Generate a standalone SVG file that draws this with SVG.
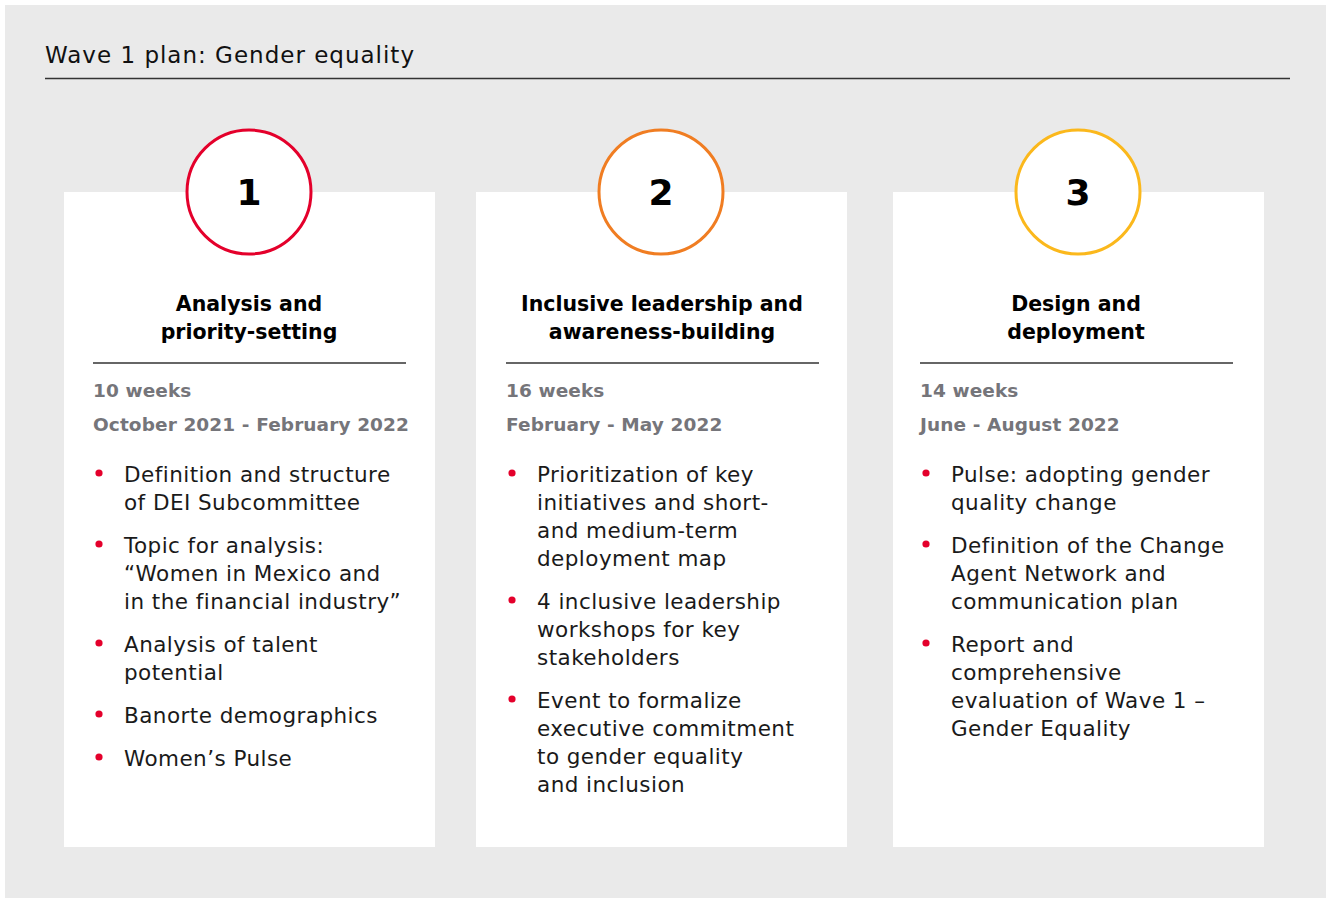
<svg xmlns="http://www.w3.org/2000/svg" width="1326" height="898" viewBox="0 0 1326 898">
<style>
.t{font-family:"DejaVu Sans","Liberation Sans",Arial,sans-serif}
.title{font-size:23px;fill:#111;letter-spacing:1px}
.num{font-size:36px;font-weight:bold;fill:#000;text-anchor:middle}
.head{font-size:20.5px;font-weight:bold;fill:#000;text-anchor:middle}
.meta{font-size:18.5px;font-weight:bold;fill:#75757a;letter-spacing:0.1px}
.item{font-size:21.5px;fill:#1a1a1a;letter-spacing:0.45px}
.card{fill:#fff}
.circ{fill:#fff;stroke-width:3}
.rule{stroke:#333;stroke-width:1.5}
</style>
<defs>
<circle id="dot" r="3.6" fill="#e4002b"/>
</defs>
<rect x="0" y="0" width="1326" height="898" fill="#fff"/>
<rect x="5" y="5" width="1321" height="893" fill="#eaeaea"/>
<text class="t title" x="45" y="63">Wave 1 plan: Gender equality</text>
<line class="rule" x1="45" y1="78.5" x2="1290" y2="78.5"/>

<g id="card1">
<rect class="card" x="64" y="192" width="371" height="655"/>
<circle class="circ" cx="249" cy="192" r="62" stroke="#e4002b"/>
<text class="t num" x="249" y="205">1</text>
<text class="t head" x="249" y="311">Analysis and</text>
<text class="t head" x="249" y="339">priority-setting</text>
<line class="rule" x1="93" y1="363" x2="406" y2="363"/>
<text class="t meta" x="93" y="397">10 weeks</text>
<text class="t meta" x="93" y="431">October 2021 - February 2022</text>
<g class="t item">
<use href="#dot" x="99" y="473"/><text x="124" y="482">Definition and structure</text><text x="124" y="510">of DEI Subcommittee</text>
<use href="#dot" x="99" y="544"/><text x="124" y="553">Topic for analysis:</text><text x="124" y="581">“Women in Mexico and</text><text x="124" y="609">in the financial industry”</text>
<use href="#dot" x="99" y="643"/><text x="124" y="652">Analysis of talent</text><text x="124" y="680">potential</text>
<use href="#dot" x="99" y="714"/><text x="124" y="723">Banorte demographics</text>
<use href="#dot" x="99" y="757"/><text x="124" y="766">Women’s Pulse</text>
</g>
</g>

<g id="card2">
<rect class="card" x="476" y="192" width="371" height="655"/>
<circle class="circ" cx="661" cy="192" r="62" stroke="#f07d22"/>
<text class="t num" x="661" y="205">2</text>
<text class="t head" x="662" y="311">Inclusive leadership and</text>
<text class="t head" x="662" y="339">awareness-building</text>
<line class="rule" x1="506" y1="363" x2="819" y2="363"/>
<text class="t meta" x="506" y="397">16 weeks</text>
<text class="t meta" x="506" y="431">February - May 2022</text>
<g class="t item">
<use href="#dot" x="512" y="473"/><text x="537" y="482">Prioritization of key</text><text x="537" y="510">initiatives and short-</text><text x="537" y="538">and medium-term</text><text x="537" y="566">deployment map</text>
<use href="#dot" x="512" y="600"/><text x="537" y="609">4 inclusive leadership</text><text x="537" y="637">workshops for key</text><text x="537" y="665">stakeholders</text>
<use href="#dot" x="512" y="699"/><text x="537" y="708">Event to formalize</text><text x="537" y="736">executive commitment</text><text x="537" y="764">to gender equality</text><text x="537" y="792">and inclusion</text>
</g>
</g>

<g id="card3">
<rect class="card" x="893" y="192" width="371" height="655"/>
<circle class="circ" cx="1078" cy="192" r="62" stroke="#fbb81c"/>
<text class="t num" x="1078" y="205">3</text>
<text class="t head" x="1076" y="311">Design and</text>
<text class="t head" x="1076" y="339">deployment</text>
<line class="rule" x1="920" y1="363" x2="1233" y2="363"/>
<text class="t meta" x="920" y="397">14 weeks</text>
<text class="t meta" x="920" y="431">June - August 2022</text>
<g class="t item">
<use href="#dot" x="926" y="473"/><text x="951" y="482">Pulse: adopting gender</text><text x="951" y="510">quality change</text>
<use href="#dot" x="926" y="544"/><text x="951" y="553">Definition of the Change</text><text x="951" y="581">Agent Network and</text><text x="951" y="609">communication plan</text>
<use href="#dot" x="926" y="643"/><text x="951" y="652">Report and</text><text x="951" y="680">comprehensive</text><text x="951" y="708">evaluation of Wave 1 –</text><text x="951" y="736">Gender Equality</text>
</g>
</g>
</svg>
